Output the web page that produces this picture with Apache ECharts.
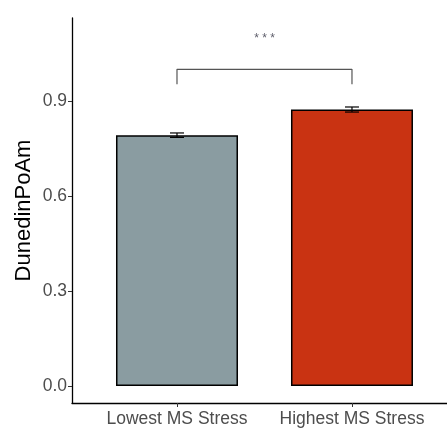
<!DOCTYPE html>
<html>
<head>
<meta charset="utf-8">
<script src="https://cdn.jsdelivr.net/npm/echarts@6/dist/echarts.min.js"></script>
<style>html,body{margin:0;padding:0;background:#fff}#c{width:447px;height:428px}</style>
</head>
<body>
<div id="c"></div>
<script>
const categories = ["Lowest MS Stress", "Highest MS Stress"];
const means = [0.792, 0.873];
const errors = [0.007, 0.008];
const barColors = ["#8a9ca1", "#c93312"];
const yTicks = [0, 0.3, 0.6, 0.9];
const yTickLabels = ["0.0", "0.3", "0.6", "0.9"];
const bracketLow = 0.953, bracketHigh = 1.0, starY = 1.097;
const sigLabel = "* * *";

const FONT = "Liberation Sans, Arial, sans-serif";
const chart = echarts.init(document.getElementById('c'), null, {renderer: 'canvas'});
const xPos = categories.map((c, i) => i + 1);

chart.setOption({
  animation: false,
  backgroundColor: '#fff',
  grid: {left: 72, right: 0, top: 18, bottom: 25, containLabel: false},
  xAxis: {
    type: 'value', min: 0.4, max: 2.543,
    splitLine: {show: false},
    axisLine: {show: true, onZero: false, lineStyle: {color: '#000', width: 1.3}},
    axisTick: {show: true, customValues: xPos, length: 4, lineStyle: {color: '#333'}},
    axisLabel: {
      customValues: xPos, margin: 7, color: '#4d4d4d', fontSize: 17.5, fontFamily: FONT,
      formatter: v => categories[Math.round(v) - 1] || ''
    }
  },
  yAxis: {
    type: 'value', min: -0.0537, max: 1.162,
    name: 'DunedinPoAm', nameLocation: 'middle', nameGap: 37, nameMoveOverlap: false,
    nameTextStyle: {fontSize: 22, color: '#000', fontFamily: FONT},
    splitLine: {show: false},
    axisLine: {show: true, onZero: false, lineStyle: {color: '#000', width: 1.3}},
    axisTick: {show: true, customValues: yTicks, length: 4, lineStyle: {color: '#333'}},
    axisLabel: {
      customValues: yTicks, margin: 5, color: '#4d4d4d', fontSize: 17.5, fontFamily: FONT,
      formatter: v => yTickLabels[yTicks.findIndex(t => Math.abs(t - v) < 1e-6)] ?? ''
    }
  },
  series: [
    {
      type: 'bar', barWidth: 122,
      data: means.map((m, i) => ({value: [xPos[i], m], itemStyle: {color: barColors[i], borderColor: '#000', borderWidth: 1.5}})),
      z: 2
    },
    {
      type: 'custom', z: 3,
      data: means.map((m, i) => [xPos[i], m - errors[i], m + errors[i]]),
      renderItem: (params, api) => {
        const x = api.value(0);
        const lo = api.coord([x, api.value(1)]);
        const hi = api.coord([x, api.value(2)]);
        const w = 7;
        const style = {stroke: '#000', lineWidth: 1.2};
        return {type: 'group', children: [
          {type: 'line', shape: {x1: lo[0], y1: lo[1], x2: hi[0], y2: hi[1]}, style},
          {type: 'line', shape: {x1: lo[0] - w, y1: lo[1], x2: lo[0] + w, y2: lo[1]}, style},
          {type: 'line', shape: {x1: hi[0] - w, y1: hi[1], x2: hi[0] + w, y2: hi[1]}, style}
        ]};
      }
    },
    {
      type: 'line', symbol: 'none', z: 3,
      lineStyle: {color: '#555', width: 1.2},
      data: [[xPos[0], bracketLow], [xPos[0], bracketHigh], [xPos[1], bracketHigh], [xPos[1], bracketLow]]
    },
    {
      type: 'scatter', symbolSize: 0, z: 4,
      data: [[(xPos[0] + xPos[1]) / 2, starY]],
      label: {show: true, position: 'inside', formatter: sigLabel, fontSize: 12, color: '#334', fontFamily: FONT}
    }
  ]
});
</script>
</body>
</html>
